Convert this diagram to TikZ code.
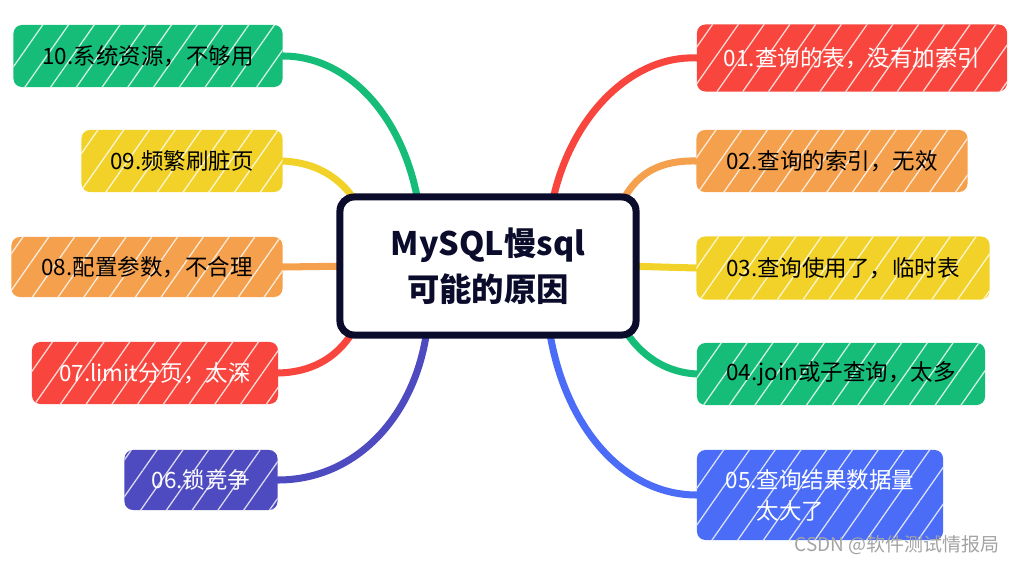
\documentclass[tikz,border=0pt]{standalone}
\usepackage{fontspec}
\newfontfamily\cjkfont{Noto Sans CJK SC}
\usetikzlibrary{backgrounds,patterns.meta}
\definecolor{slowInk}{HTML}{0B0B2B}
\definecolor{slowRed}{HTML}{F8453D}
\definecolor{slowOrange}{HTML}{F4A04D}
\definecolor{slowYellow}{HTML}{F2D229}
\definecolor{slowGreen}{HTML}{16BD78}
\definecolor{slowBlue}{HTML}{4A6CF7}
\definecolor{slowIndigo}{HTML}{4E4BC0}
\definecolor{slowMark}{HTML}{A3A3A3}
\tikzset{
  every picture/.style={font=\cjkfont\fontsize{16}{22}\selectfont, text=black},
  cause box/.style={fill=#1, rounded corners=6pt, minimum height=1.55cm,
    inner xsep=3mm, align=left,
    postaction={pattern={Lines[angle=55,distance=15pt,line width=0.9pt]},
      pattern color=white!80!#1}},
  cause light/.style={text=white},
  cause link/.style={draw=#1, line width=5pt, line cap=round},
  hub box/.style={draw=slowInk, line width=5pt, rounded corners=10pt,
    fill=white, minimum width=7.4cm, minimum height=3.45cm, align=center,
    text=slowInk, font=\cjkfont\bfseries\fontsize{23}{33}\selectfont}
}
\begin{document}
\begin{tikzpicture}[x=0.025cm,y=-0.025cm]
  \useasboundingbox (0,0) rectangle (1019,564);
  \node[hub box] (hub) at (488,266) {MySQL慢sql\\可能的原因};

  % left side
  \node[cause box=slowGreen, minimum width=6.725cm] (n10) at (148,56) {10.系统资源，不够用};
  \node[cause box=slowYellow, minimum width=5.025cm] (n09) at (182,161) {09.频繁刷脏页};
  \node[cause box=slowOrange, minimum width=6.775cm, minimum height=1.5cm] (n08) at (147,267) {08.配置参数，不合理};
  \node[cause box=slowRed, cause light, minimum width=6.15cm] (n07) at (155,373) {07.limit分页，太深};
  \node[cause box=slowIndigo, cause light, minimum width=3.825cm, minimum height=1.5cm] (n06) at (201,480) {06.锁竞争};

  % right side
  \node[cause box=slowRed, cause light, minimum width=7.75cm, minimum height=1.675cm] (n01) at (852,58) {01.查询的表，没有加索引};
  \node[cause box=slowOrange, minimum width=6.775cm] (n02) at (832,161) {02.查询的索引，无效};
  \node[cause box=slowYellow, minimum width=7.325cm, minimum height=1.575cm] (n03) at (843,268) {03.查询使用了，临时表};
  \node[cause box=slowGreen, minimum width=7.2cm] (n04) at (841,374) {04.join或子查询，太多};
  \node[cause box=slowBlue, cause light, minimum width=6.15cm, minimum height=2.25cm] (n05) at (820,495)
    {05.查询结果数据量\\\phantom{05.}太大了};

  \node[text=slowMark, font=\cjkfont\fontsize{13.5}{16}\selectfont] (mark) at (897,545) {CSDN @软件测试情报局};

  \begin{scope}[on background layer]
    \coordinate (c10) at (420,215);
    \coordinate (c09) at (362,212);
    \coordinate (c08) at (355,266);
    \coordinate (c07) at (358,322);
    \coordinate (c06) at (428,320);
    \coordinate (c01) at (550,215);
    \coordinate (c02) at (618,212);
    \coordinate (c03) at (625,266);
    \coordinate (c04) at (620,322);
    \coordinate (c05) at (548,320);
    \draw[cause link=slowGreen] (n10.east) .. controls (350,56) and (408,120) .. (c10);
    \draw[cause link=slowYellow] (n09.east) .. controls (320,163) and (345,180) .. (c09);
    \draw[cause link=slowOrange] (n08.east) -- (c08);
    \draw[cause link=slowRed] (n07.east) .. controls (320,372) and (345,350) .. (c07);
    \draw[cause link=slowIndigo] (n06.east) .. controls (360,480) and (420,410) .. (c06);
    \draw[cause link=slowRed] (n01.west) .. controls (630,55) and (565,120) .. (c01);
    \draw[cause link=slowOrange] (n02.west) .. controls (652,160) and (630,180) .. (c02);
    \draw[cause link=slowYellow] (n03.west) -- (c03);
    \draw[cause link=slowGreen] (n04.west) .. controls (660,372) and (635,350) .. (c04);
    \draw[cause link=slowBlue] (n05.west) .. controls (620,495) and (560,420) .. (c05);
  \end{scope}
\end{tikzpicture}
\end{document}
